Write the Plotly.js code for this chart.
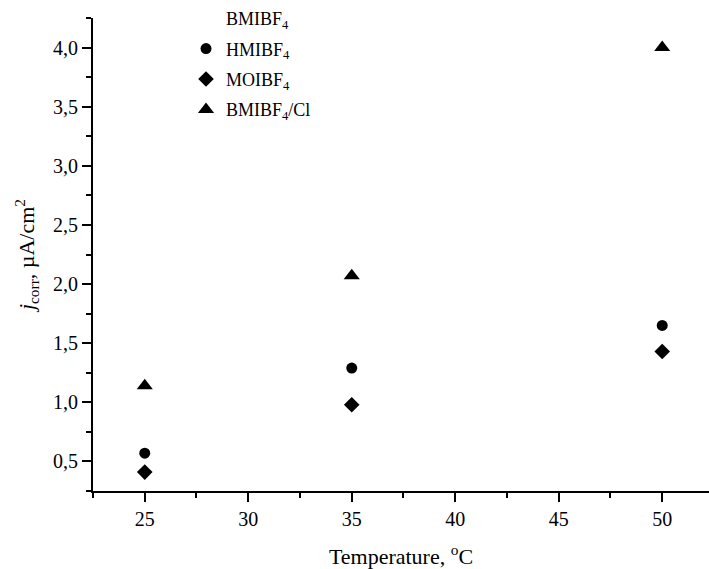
<!DOCTYPE html>
<html>
<head>
<meta charset="utf-8">
<script src="https://cdn.plot.ly/plotly-3.0.1.min.js"></script>
<style>html,body{margin:0;padding:0;background:#fff;overflow:hidden;}</style>
</head>
<body>
<div id="chart" style="width:709px;height:569px;"></div>
<script>
// Data
const temperatures = [25, 35, 50];
const bmibf4 = [null, null, null];      // listed in legend, no points visible
const hmibf4 = [0.57, 1.29, 1.65];
const moibf4 = [0.41, 0.98, 1.43];
const bmibf4cl = [1.14, 2.07, 4.00];

const seriesNames = ["BMIBF<sub>4</sub>", "HMIBF<sub>4</sub>", "MOIBF<sub>4</sub>", "BMIBF<sub>4</sub>/Cl"];

const serif = "Liberation Serif, Times New Roman, serif";

const traces = [
  {x: temperatures, y: bmibf4, name: seriesNames[0], mode: "markers", type: "scatter",
   marker: {symbol: "square", size: 10, color: "rgba(0,0,0,0)"}, legendgroup: "a", showlegend: true},
  {x: temperatures, y: hmibf4, name: seriesNames[1], mode: "markers", type: "scatter",
   marker: {symbol: "circle", size: 11, color: "#000"}, legendgroup: "b"},
  {x: temperatures, y: moibf4, name: seriesNames[2], mode: "markers", type: "scatter",
   marker: {symbol: "diamond", size: 12, color: "#000"}, legendgroup: "c"},
  {x: temperatures, y: bmibf4cl, name: seriesNames[3], mode: "markers", type: "scatter",
   marker: {symbol: "triangle-up", size: 14, color: "#000"}, legendgroup: "d"}
];

const layout = {
  width: 709, height: 569,
  margin: {l: 93, r: 0, t: 17, b: 78, pad: 0},
  paper_bgcolor: "#fff", plot_bgcolor: "#fff",
  separators: ", ",
  font: {family: serif, size: 18, color: "#000"},
  showlegend: true,
  legend: {
    x: 0.151, y: 1.037, xanchor: "left", yanchor: "top",
    bgcolor: "rgba(0,0,0,0)", borderwidth: 0,
    font: {family: serif, size: 18, color: "#000"},
    traceorder: "grouped", tracegroupgap: 4
  },
  xaxis: {
    range: [22.5, 52.26], dtick: 5, tick0: 0,
    showline: true, linewidth: 2, linecolor: "#000",
    ticks: "outside", ticklen: 9, tickwidth: 2, tickcolor: "#000",
    minor: {dtick: 2.5, tick0: 0, ticks: "outside", ticklen: 5, tickwidth: 2, tickcolor: "#000", showgrid: false},
    showgrid: false, zeroline: false,
    tickfont: {family: serif, size: 20, color: "#000"},
    title: {text: "Temperature, <sup>o</sup>C", font: {family: serif, size: 22, color: "#000"}, standoff: 20}
  },
  yaxis: {
    range: [0.25, 4.25], dtick: 0.5, tick0: 0, tickformat: ".1f",
    showline: true, linewidth: 2, linecolor: "#000",
    ticks: "outside", ticklen: 9, tickwidth: 2, tickcolor: "#000",
    minor: {dtick: 0.25, tick0: 0, ticks: "outside", ticklen: 5, tickwidth: 2, tickcolor: "#000", showgrid: false},
    showgrid: false, zeroline: false,
    tickfont: {family: serif, size: 20, color: "#000"},
    title: {text: "<i>j</i><sub>corr</sub>, µA/cm<sup>2</sup>", font: {family: serif, size: 22, color: "#000"}, standoff: 12}
  }
};

Plotly.newPlot("chart", traces, layout, {displayModeBar: false, staticPlot: true});
</script>
</body>
</html>
